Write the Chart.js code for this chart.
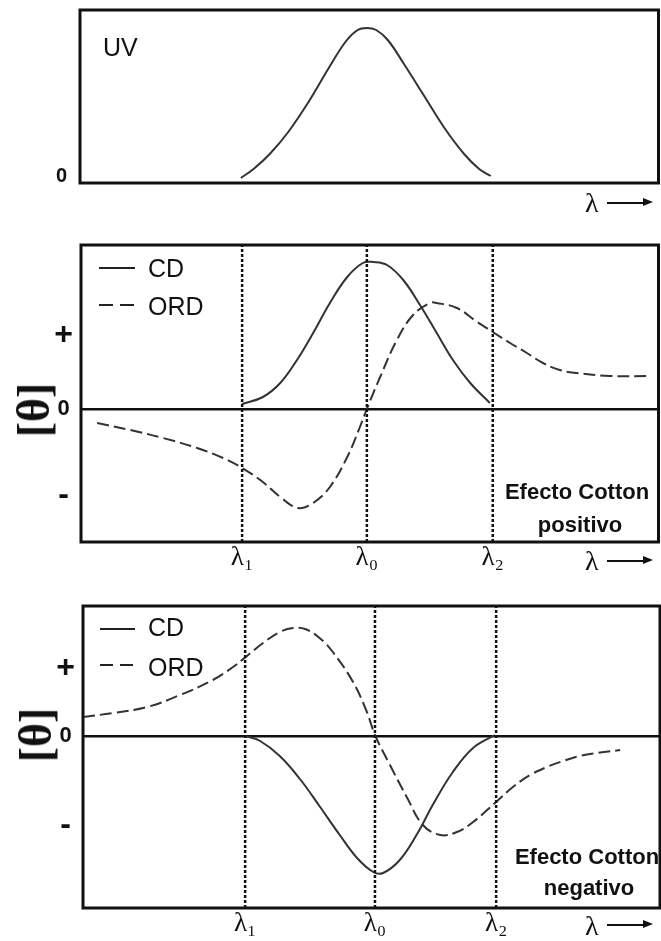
<!DOCTYPE html>
<html>
<head>
<meta charset="utf-8">
<script src="https://cdn.jsdelivr.net/npm/chart.js@4.4.1/dist/chart.umd.min.js"></script>
<style>
  body { margin: 0; background: #fff; }
  #page { position: relative; width: 661px; height: 941px; overflow: hidden; }
  canvas { position: absolute; left: 0; }
  .t { position: absolute; line-height: 1; white-space: nowrap; color: #111;
       font-family: "Liberation Sans", Arial, sans-serif; transform: translateY(-50%); }
  .serif { font-family: "Liberation Serif", "DejaVu Serif", serif; }
  .theta { position: absolute; line-height: 1; color: #111; font-weight: bold; font-size: 46px;
           font-family: "Liberation Serif", "DejaVu Serif", serif;
           transform: translate(-50%, -50%) rotate(-90deg); }
  .eff { width: 170px; text-align: center; font-weight: bold; font-size: 22px; }
  .ln { position: absolute; height: 0; border-top: 2.5px solid #222; }
  .arrow { position: absolute; width: 38px; height: 0; border-top: 2.5px solid #111; }
  .arrow::after { content: ""; position: absolute; left: 36px; top: -6.5px;
                  border-left: 10px solid #111; border-top: 4.5px solid transparent; border-bottom: 4.5px solid transparent; }
</style>
</head>
<body>
<div id="page">
  <canvas id="uvChart" width="661" height="215" style="top:0"></canvas>
  <canvas id="posChart" width="661" height="360" style="top:220px"></canvas>
  <canvas id="negChart" width="661" height="361" style="top:580px"></canvas>

  <!-- UV panel -->
  <div class="t" style="left:103px;top:47px;font-size:25px">UV</div>
  <div class="t serif" style="left:585px;top:203px;font-size:28px">λ</div>
  <div class="arrow" style="left:607px;top:202px"></div>

  <!-- positive Cotton effect -->
  <div class="theta" style="left:34px;top:410px">[θ]</div>
  <div class="ln" style="left:99px;top:267px;width:36px"></div>
  <div class="t" style="left:148px;top:268px;font-size:25px">CD</div>
  <div class="ln" style="left:99px;top:304px;width:14px"></div>
  <div class="ln" style="left:120px;top:304px;width:14px"></div>
  <div class="t" style="left:148px;top:306px;font-size:25px">ORD</div>
  <div class="t eff" style="left:492px;top:492px">Efecto Cotton</div>
  <div class="t eff" style="left:495px;top:525px">positivo</div>
  <div class="t serif" style="left:585px;top:561px;font-size:28px">λ</div>
  <div class="arrow" style="left:607px;top:560px"></div>

  <!-- negative Cotton effect -->
  <div class="theta" style="left:36px;top:735px">[θ]</div>
  <div class="ln" style="left:100px;top:628px;width:35px"></div>
  <div class="t" style="left:148px;top:627px;font-size:25px">CD</div>
  <div class="ln" style="left:100px;top:664px;width:13px"></div>
  <div class="ln" style="left:120px;top:664px;width:13px"></div>
  <div class="t" style="left:148px;top:667px;font-size:25px">ORD</div>
  <div class="t eff" style="left:502px;top:857px">Efecto Cotton</div>
  <div class="t eff" style="left:504px;top:888px">negativo</div>
  <div class="t serif" style="left:585px;top:926px;font-size:28px">λ</div>
  <div class="arrow" style="left:607px;top:924px"></div>
</div>

<script>
/* DATA */
const lambdaLabels = ["λ₁", "λ₀", "λ₂"];
const lambdaPos = [27.9, 49.5, 71.3];
const lambdaNeg = [28.1, 50.6, 71.6];

const uvTicks = [0];
const uvTickLabels = ["0"];
const signLabels = ["-", "0", "+"];
const signTicksPos = [-0.86, 0, 0.74];
const signTicksNeg = [-0.89, 0, 0.68];

const yRangeUV = [-0.07, 1.66];
const yRangePos = [-1.33, 1.64];
const yRangeNeg = [-1.72, 1.30];

// UV absorption band
const uvX = [27.8, 30, 32.8, 36, 39.5, 43, 46, 48, 49.6, 51.2, 53.2, 56, 59.5, 63, 66.4, 69, 71];
const uvY = [-0.02, 0.07, 0.22, 0.44, 0.74, 1.08, 1.35, 1.46, 1.48, 1.46, 1.36, 1.12, 0.80, 0.48, 0.22, 0.07, 0.0];

// positive Cotton effect
const cdPosX = [27.9, 31.5, 34.5, 37.4, 40.2, 43.1, 46.1, 48.8, 50.6, 53.0, 55.8, 58.7, 61.6, 64.4, 67.4, 70.8];
const cdPosY = [0.05, 0.12, 0.26, 0.49, 0.76, 1.06, 1.32, 1.46, 1.47, 1.44, 1.29, 1.04, 0.76, 0.49, 0.26, 0.06];
const ordPosX = [2.8, 8.5, 14.2, 20.1, 24.6, 27.9, 31.5, 34.5, 37.6, 40.2, 43.1, 46.1, 48.3, 49.5, 51.8, 54.7, 57.5,
                 60.4, 61.6, 65.1, 68.6, 71.3, 74.3, 77.2, 80.0, 82.9, 85.9, 91.6, 98.0];
const ordPosY = [-0.14, -0.21, -0.29, -0.39, -0.49, -0.59, -0.73, -0.88, -0.99, -0.94, -0.78, -0.48, -0.18, 0, 0.32,
                 0.69, 0.94, 1.06, 1.06, 1.01, 0.87, 0.77, 0.66, 0.56, 0.46, 0.39, 0.36, 0.33, 0.33];

// negative Cotton effect
const cdNegX = [28.1, 30.7, 34.1, 37.6, 41.1, 44.5, 47.5, 50.3, 52.0, 54.9, 57.9, 60.7, 64.1, 67.6, 71.4];
const cdNegY = [0, -0.05, -0.20, -0.43, -0.71, -0.99, -1.22, -1.36, -1.37, -1.24, -0.98, -0.68, -0.36, -0.12, 0.01];
const ordNegX = [0, 5.2, 11.1, 16.8, 22.5, 26.0, 28.2, 31.2, 34.1, 36.4, 38.5, 41.0, 43.3, 46.8, 49.2, 50.6, 53.2,
                 56.2, 58.9, 61.9, 64.8, 67.6, 71.6, 74.5, 77.5, 80.4, 83.2, 86.1, 89.1, 93.1];
const ordNegY = [0.19, 0.23, 0.29, 0.41, 0.56, 0.69, 0.79, 0.93, 1.04, 1.08, 1.07, 0.98, 0.84, 0.54, 0.24, 0.01,
                 -0.29, -0.62, -0.89, -0.99, -0.96, -0.86, -0.66, -0.51, -0.39, -0.31, -0.25, -0.20, -0.17, -0.14];

/* HELPERS */
const framePlugin = {
  id: "frame",
  afterDraw(chart) {
    const { ctx, chartArea: a } = chart;
    ctx.save();
    ctx.lineWidth = 3;
    ctx.strokeStyle = "#111";
    ctx.strokeRect(a.left, a.top, a.right - a.left, a.bottom - a.top);
    ctx.restore();
  }
};

function pts(xs, ys) {
  return xs.map((x, i) => ({ x, y: ys[i] }));
}

function curve(xs, ys, dashed) {
  return {
    data: pts(xs, ys),
    borderColor: "#333",
    borderWidth: 2,
    borderDash: dashed ? [12, 5] : [],
    pointRadius: 0,
    tension: 0.4,
    fill: false
  };
}

function marker(x, yr) {
  return {
    data: [{ x, y: yr[0] }, { x, y: yr[1] }],
    borderColor: "#111",
    borderWidth: 2.5,
    borderDash: [3, 2],
    pointRadius: 0
  };
}

function makePanel(id, o) {
  const marks = o.markers || [];
  const datasets = marks.map(x => marker(x, o.yRange)).concat(o.curves);

  const xScale = {
    type: "linear", min: 0, max: 100,
    border: { display: false },
    grid: { display: false, drawTicks: false },
    afterFit: ax => { ax.height = o.axisH; ax.paddingLeft = 0; ax.paddingRight = 0; },
    ticks: {
      display: marks.length > 0, autoSkip: false, maxRotation: 0, padding: 0, color: "#111",
      font: { family: "'Liberation Serif','DejaVu Serif',serif", size: 27 },
      callback: (v, i) => lambdaLabels[i]
    }
  };
  if (marks.length) xScale.afterBuildTicks = ax => { ax.ticks = marks.map(v => ({ value: v })); };

  return new Chart(document.getElementById(id), {
    type: "line",
    data: { datasets },
    options: {
      responsive: false,
      animation: false,
      devicePixelRatio: 1,
      layout: { padding: { top: o.padTop, right: o.padRight, left: 0, bottom: 0 } },
      plugins: { legend: { display: false }, tooltip: { enabled: false } },
      scales: {
        x: xScale,
        y: {
          min: o.yRange[0], max: o.yRange[1],
          border: { display: false },
          grid: {
            display: o.zeroLine, drawTicks: false, lineWidth: 2.5,
            color: c => (c.tick && c.tick.value === 0 ? "#111" : "transparent")
          },
          afterBuildTicks: ax => { ax.ticks = o.yTicks.map(v => ({ value: v })); },
          afterFit: ax => { ax.width = o.axisW; ax.paddingTop = 0; ax.paddingBottom = 0; },
          ticks: {
            crossAlign: "center", padding: o.yPad, color: "#111",
            font: c => ({
              family: "'Liberation Sans',Arial,sans-serif", weight: "bold",
              size: c.tick && c.tick.value !== 0 ? 32 : o.zeroSize
            }),
            callback: (v, i) => o.yLabels[i]
          }
        }
      }
    },
    plugins: [framePlugin]
  });
}

/* CHARTS */
makePanel("uvChart", {
  curves: [curve(uvX, uvY, false)],
  yRange: yRangeUV, yTicks: uvTicks, yLabels: uvTickLabels,
  padTop: 10, padRight: 2.5, axisW: 80, axisH: 32, yPad: 13, zeroSize: 20, zeroLine: false
});

makePanel("posChart", {
  markers: lambdaPos,
  curves: [curve(cdPosX, cdPosY, false), curve(ordPosX, ordPosY, true)],
  yRange: yRangePos, yTicks: signTicksPos, yLabels: signLabels,
  padTop: 25, padRight: 2.5, axisW: 81, axisH: 38, yPad: 8, zeroSize: 22, zeroLine: true
});

makePanel("negChart", {
  markers: lambdaNeg,
  curves: [curve(cdNegX, cdNegY, false), curve(ordNegX, ordNegY, true)],
  yRange: yRangeNeg, yTicks: signTicksNeg, yLabels: signLabels,
  padTop: 26, padRight: 1, axisW: 83, axisH: 33, yPad: 8, zeroSize: 22, zeroLine: true
});
</script>
</body>
</html>
